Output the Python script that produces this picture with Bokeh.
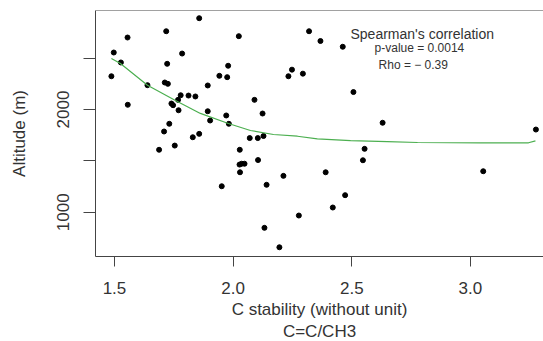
from bokeh.plotting import figure
from bokeh.models import Range1d, FixedTicker, Label, Span, Title
from bokeh.embed import file_html
from bokeh.resources import INLINE

# C stability (C=C/CH3) vs altitude (m)
stability = [1.857, 1.718, 1.555, 2.024, 1.497, 1.785, 1.527, 1.722, 1.979, 1.487,
             1.942, 1.975, 1.712, 1.725, 1.639, 1.893, 1.779, 1.812, 1.841, 1.768,
             1.740, 1.747, 1.556, 1.770, 1.893, 1.903, 1.971, 1.982, 1.731, 1.709,
             1.857, 1.830, 2.090, 2.124, 2.070, 2.104, 2.128, 2.320, 2.368, 2.462,
             2.248, 2.233, 2.294, 2.507, 2.630, 3.276, 1.688, 1.754, 2.028, 2.027,
             2.036, 2.048, 2.029, 2.105, 1.952, 2.141, 2.132, 2.195, 2.212, 2.277,
             2.390, 2.420, 2.472, 2.547, 2.554, 3.054]
altitude = [2889, 2762, 2701, 2714, 2555, 2545, 2458, 2445, 2426, 2324,
            2328, 2315, 2263, 2250, 2237, 2234, 2139, 2136, 2127, 2094,
            2058, 2042, 2046, 1993, 1983, 1893, 1942, 1861, 1861, 1786,
            1763, 1730, 2094, 1961, 1722, 1722, 1742, 2762, 2667, 2611,
            2388, 2324, 2349, 2170, 1871, 1805, 1608, 1649, 1608, 1464,
            1472, 1472, 1389, 1508, 1253, 1267, 848, 659, 1354, 968,
            1389, 1046, 1166, 1506, 1617, 1399]

# smoothed trend (green curve)
trend_x = [1.487, 1.525, 1.639, 1.757, 1.862, 1.980, 2.073, 2.170, 2.271, 2.355,
           2.495, 2.650, 2.777, 3.042, 3.245, 3.274]
trend_y = [2497, 2448, 2237, 2088, 1962, 1864, 1796, 1757, 1740, 1715,
           1698, 1688, 1679, 1676, 1676, 1695]

x_ticks = [1.5, 2.0, 2.5, 3.0]
x_tick_labels = ["1.5", "2.0", "2.5", "3.0"]
y_ticks = [1000, 1500, 2000, 2500]
y_tick_labels = ["1000", "", "2000", ""]

FONT = "Liberation Sans"
AX = "#444444"
TXT = "#333333"

p = figure(width=543, height=341, output_backend="svg", toolbar_location=None,
           x_range=Range1d(1.420, 3.308), y_range=Range1d(569, 2964),
           min_border_left=95, min_border_right=0, min_border_top=10,
           min_border_bottom=85)
p.background_fill_color = "white"
p.border_fill_color = "white"
p.outline_line_color = None
p.grid.visible = False

# axes
p.xaxis.ticker = FixedTicker(ticks=x_ticks)
p.xaxis.major_label_overrides = dict(zip(x_ticks, x_tick_labels))
p.yaxis.ticker = FixedTicker(ticks=y_ticks)
p.yaxis.major_label_overrides = dict(zip(y_ticks, y_tick_labels))
for ax in (p.xaxis[0], p.yaxis[0]):
    ax.axis_line_color = AX
    ax.major_tick_line_color = AX
    ax.minor_tick_line_color = None
    ax.major_tick_in = 0
    ax.major_label_text_font = FONT
    ax.major_label_text_font_size = "17px"
    ax.major_label_text_color = TXT
    ax.axis_label_text_font = FONT
    ax.axis_label_text_font_style = "normal"
    ax.axis_label_text_font_size = "17px"
    ax.axis_label_text_color = TXT
p.xaxis.major_tick_out = 10
p.xaxis.major_label_standoff = 15
p.yaxis.major_tick_out = 12
p.yaxis.major_label_standoff = 14
p.yaxis.major_label_orientation = "vertical"
p.yaxis.axis_label = "Altitude (m)"
p.yaxis.axis_label_standoff = 26

# x-axis title (two lines), below the axis
p.add_layout(Title(text="C stability (without unit)", align="center", offset=-8,
                   text_font=FONT, text_font_size="17px", text_font_style="normal",
                   text_color=TXT, standoff=2), "below")
p.add_layout(Title(text="C=C/CH3", align="center", offset=-8,
                   text_font=FONT, text_font_size="17px", text_font_style="normal",
                   text_color=TXT, standoff=1), "below")

# top frame line
p.add_layout(Span(location=2964, dimension="width", line_color=AX, line_width=1))

p.scatter(stability, altitude, size=5, color="black", marker="circle")
p.line(trend_x, trend_y, line_color="#4caf50", line_width=1.2)

# annotation
p.add_layout(Label(x=2.797, y=2740, text="Spearman's correlation", text_align="center",
                   text_baseline="alphabetic", text_font=FONT, text_font_size="14px",
                   text_color=TXT))
p.add_layout(Label(x=2.596, y=2601, text="p-value = 0.0014", text_align="left",
                   text_baseline="alphabetic", text_font=FONT, text_font_size="12px",
                   text_color=TXT))
p.add_layout(Label(x=2.613, y=2435, text="Rho = \u2212 0.39", text_align="left",
                   text_baseline="alphabetic", text_font=FONT, text_font_size="12px",
                   text_color=TXT))

open("out.html", "w").write(file_html(p, INLINE))
